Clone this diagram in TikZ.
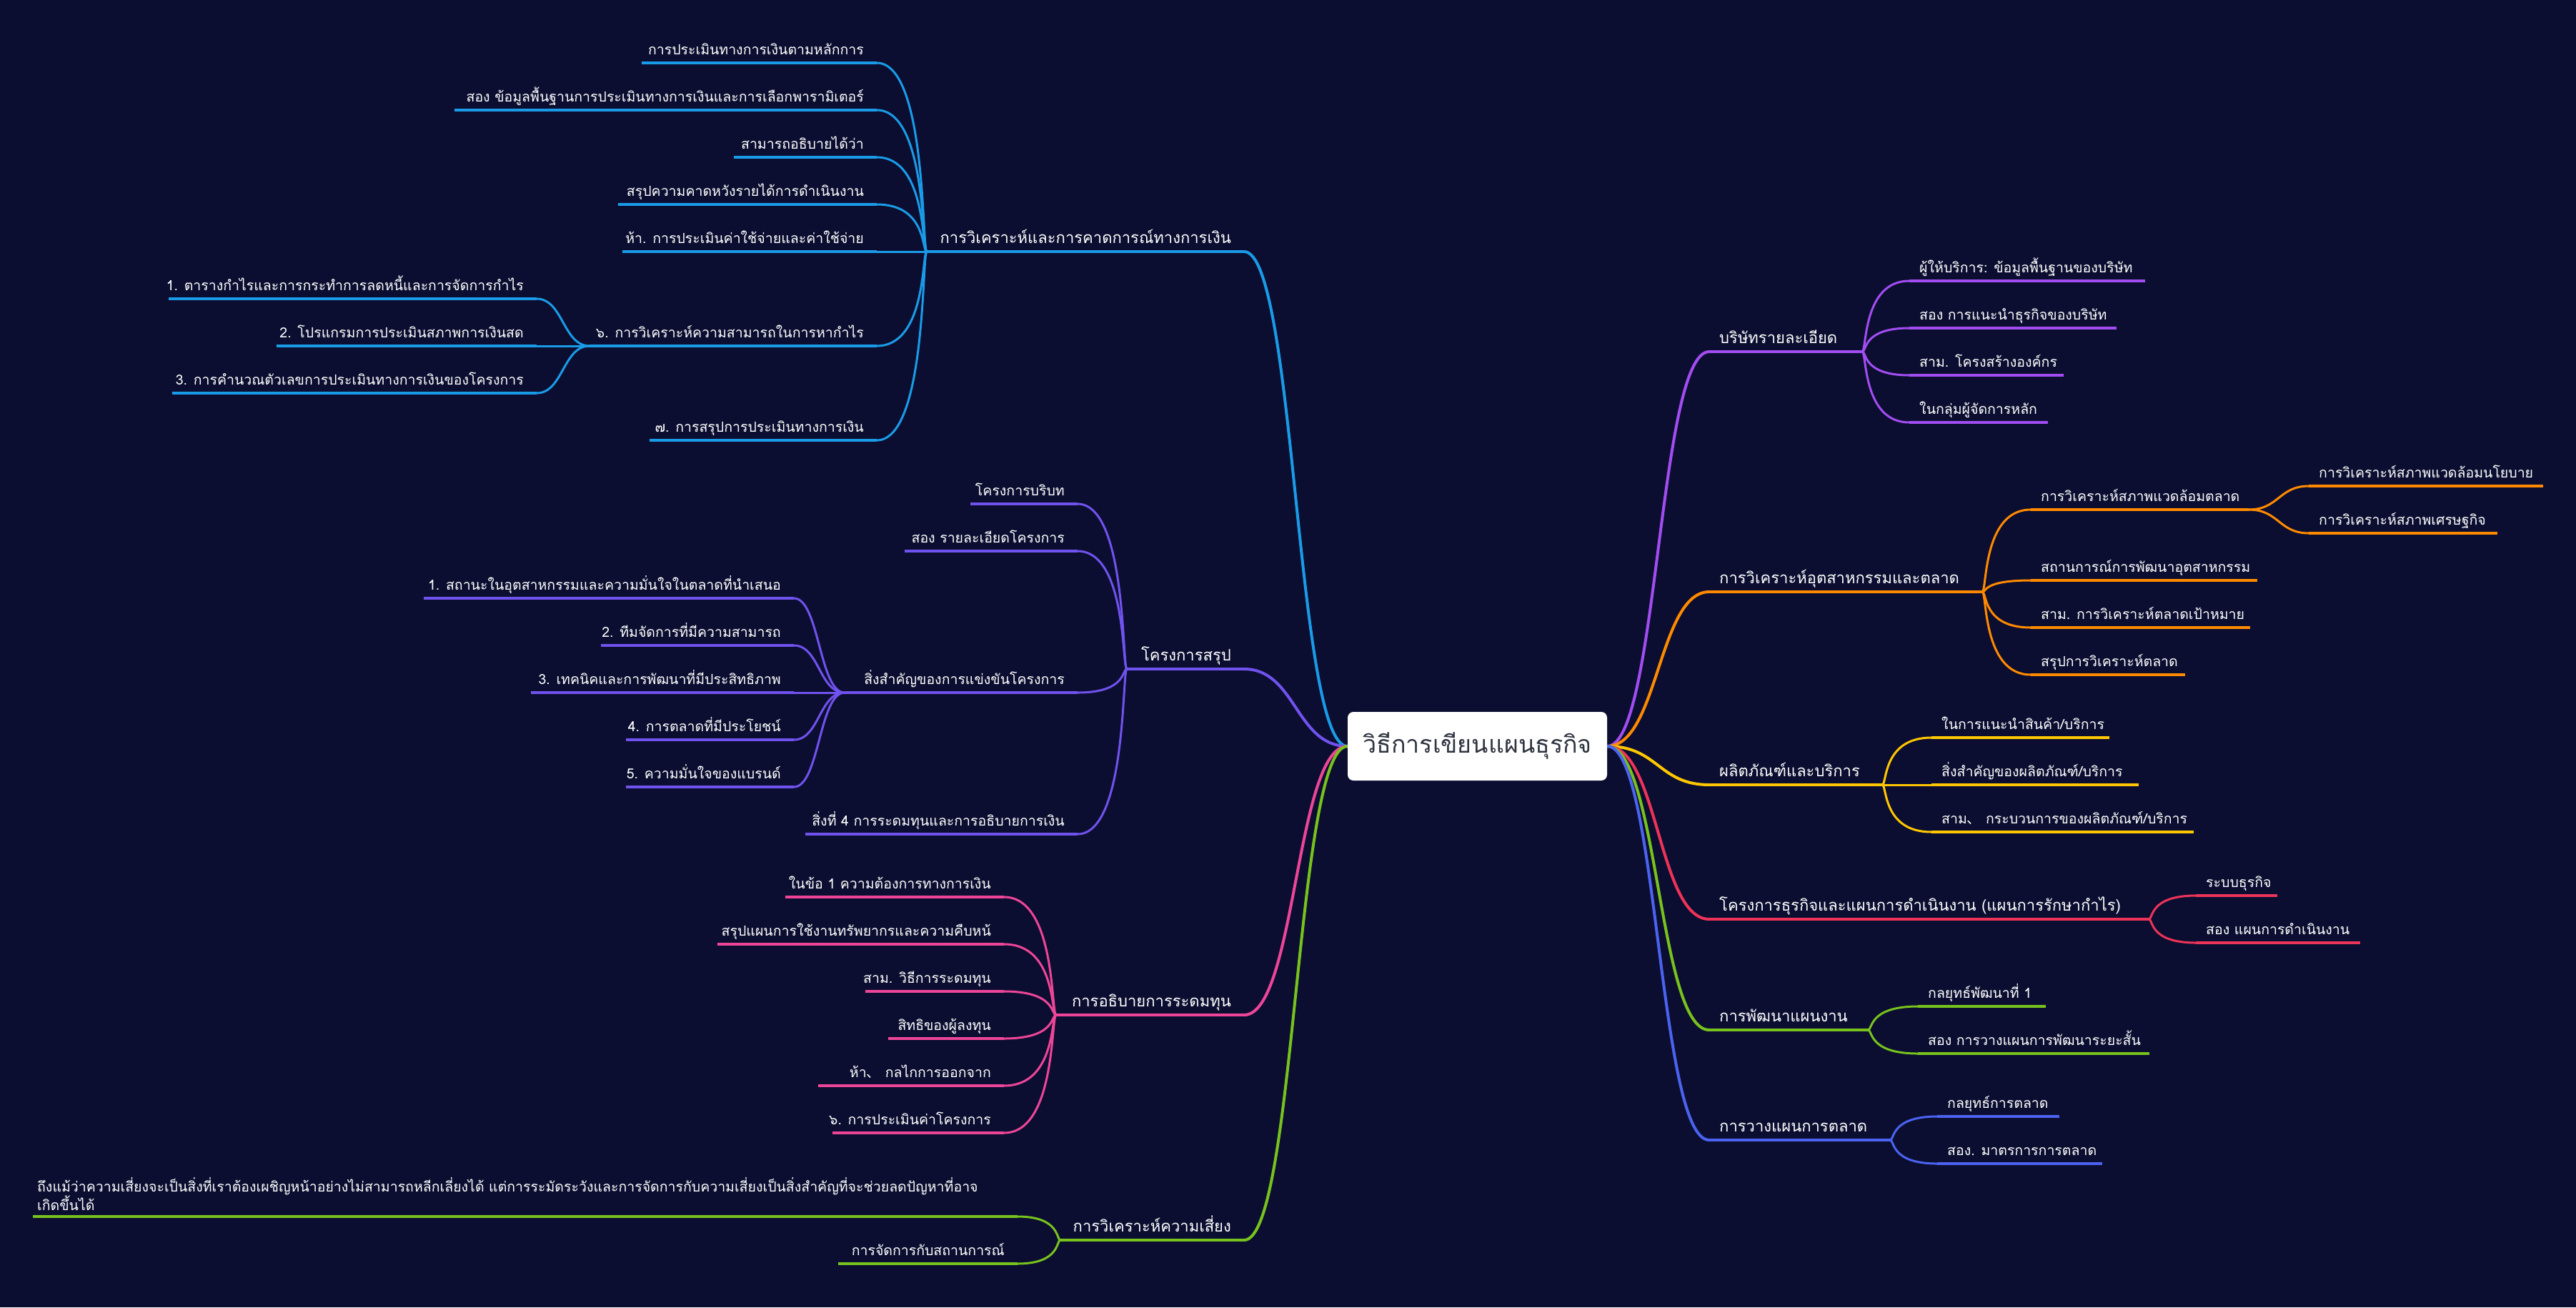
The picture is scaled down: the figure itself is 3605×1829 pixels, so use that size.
\documentclass[tikz,border=0pt]{standalone}
\usepackage{fontspec}
\setmainfont[Script=Thai]{Loma}
\newfontfamily\cjk{Noto Sans CJK SC}
\usetikzlibrary{calc}
\definecolor{bg}{HTML}{0B0E30}
\definecolor{cFin}{HTML}{1A9BE8}
\definecolor{cProj}{HTML}{7052EE}
\definecolor{cFund}{HTML}{EE4599}
\definecolor{cRisk}{HTML}{78C21E}
\definecolor{cComp}{HTML}{A24DF2}
\definecolor{cInd}{HTML}{FF8A00}
\definecolor{cProd}{HTML}{FFC700}
\definecolor{cBiz}{HTML}{EE3358}
\definecolor{cDev}{HTML}{78C21E}
\definecolor{cMkt}{HTML}{4B63F0}
\definecolor{rootgray}{HTML}{2E3440}
\newcommand\Rtopic[7]{%
  \coordinate (#1-s) at (#2,#4);
  \coordinate (#1-e) at (#3,#4);
  \draw[ul,#5] (#1-s) -- (#1-e);
  \node[#6,anchor=base west] (#1) at ($(#1-s)+(14,-12)$) {#7};
}
\newcommand\Ltopic[7]{%
  \coordinate (#1-s) at (#2,#4);
  \coordinate (#1-e) at (#3,#4);
  \draw[ul,#5] (#1-s) -- (#1-e);
  \node[#6,anchor=base east] (#1) at ($(#1-e)+(-18,-12)$) {#7};
}
\begin{document}
\begin{tikzpicture}[x=1pt,y=-1pt,
  ul/.style={line width=3.5pt},
  c1/.style={line width=4pt},
  c2/.style={line width=3pt},
  leaf/.style={text=white,inner sep=0pt,font=\fontsize{19.5}{26.5}\selectfont},
  lvl1/.style={text=white,inner sep=0pt,font=\fontsize{22}{27}\selectfont},
  rootbox/.style={fill=white,rounded corners=8pt,minimum width=363pt,minimum height=96pt,text=rootgray,font=\fontsize{34}{40}\selectfont},
  scurve/.style={to path={.. controls ($(\tikztostart)!0.5!(\tikztotarget |- \tikztostart)$) and ($(\tikztotarget)!0.5!(\tikztostart |- \tikztotarget)$) .. (\tikztotarget)}},
  lcurve/.style={to path={.. controls ($(\tikztostart)!0.1!(\tikztotarget |- \tikztostart)$) and (\tikztostart |- \tikztotarget) .. (\tikztotarget)}}]
\fill[bg] (0,0) rectangle (3605,1829);
\useasboundingbox (0,0) rectangle (3605,1829);

\node[rootbox] (root) at (2067.5,1044) {วิธีการเขียนแผนธุรกิจ};

% ---------- left: finance
\Ltopic{L1}{1297}{1741}{352}{cFin}{lvl1}{การวิเคราะห์และการคาดการณ์ทางการเงิน}
\Ltopic{L1a}{898}{1227}{88}{cFin}{leaf}{การประเมินทางการเงินตามหลักการ}
\Ltopic{L1b}{636}{1227}{154}{cFin}{leaf}{สอง ข้อมูลพื้นฐานการประเมินทางการเงินและการเลือกพารามิเตอร์}
\Ltopic{L1c}{1027}{1227}{220}{cFin}{leaf}{สามารถอธิบายได้ว่า}
\Ltopic{L1d}{865}{1227}{286}{cFin}{leaf}{สรุปความคาดหวังรายได้การดำเนินงาน}
\Ltopic{L1e}{871}{1227}{352}{cFin}{leaf}{ห้า. การประเมินค่าใช้จ่ายและค่าใช้จ่าย}
\Ltopic{L1f}{825}{1227}{484}{cFin}{leaf}{๖. การวิเคราะห์ความสามารถในการหากำไร}
\Ltopic{L1g}{909}{1227}{616}{cFin}{leaf}{๗. การสรุปการประเมินทางการเงิน}
\Ltopic{L1f1}{236}{751}{418}{cFin}{leaf}{1. ตารางกำไรและการกระทำการลดหนี้และการจัดการกำไร}
\Ltopic{L1f2}{387}{751}{484}{cFin}{leaf}{2. โปรแกรมการประเมินสภาพการเงินสด}
\Ltopic{L1f3}{241}{751}{550}{cFin}{leaf}{3. การคำนวณตัวเลขการประเมินทางการเงินของโครงการ}
\draw[c1,cFin] (root.west) to[scurve] (L1-e);
\foreach \c in {L1a,L1b,L1c,L1d,L1e,L1f,L1g}{\draw[c2,cFin] (L1-s) to[lcurve] (\c-e);}
\foreach \c in {L1f1,L1f2,L1f3}{\draw[c2,cFin] (L1f-s) to[scurve] (\c-e);}

% ---------- left: project summary
\Ltopic{L2}{1577}{1741}{936}{cProj}{lvl1}{โครงการสรุป}
\Ltopic{L2a}{1358}{1508}{705}{cProj}{leaf}{โครงการบริบท}
\Ltopic{L2b}{1266}{1508}{771}{cProj}{leaf}{สอง รายละเอียดโครงการ}
\Ltopic{L2c}{1182}{1508}{969}{cProj}{leaf}{สิ่งสำคัญของการแข่งขันโครงการ}
\Ltopic{L2d}{1127}{1508}{1167}{cProj}{leaf}{สิ่งที่ 4 การระดมทุนและการอธิบายการเงิน}
\Ltopic{L2c1}{593}{1111}{837}{cProj}{leaf}{1. สถานะในอุตสาหกรรมและความมั่นใจในตลาดที่นำเสนอ}
\Ltopic{L2c2}{841}{1111}{903}{cProj}{leaf}{2. ทีมจัดการที่มีความสามารถ}
\Ltopic{L2c3}{743}{1111}{969}{cProj}{leaf}{3. เทคนิคและการพัฒนาที่มีประสิทธิภาพ}
\Ltopic{L2c4}{876}{1111}{1035}{cProj}{leaf}{4. การตลาดที่มีประโยชน์}
\Ltopic{L2c5}{876}{1111}{1101}{cProj}{leaf}{5. ความมั่นใจของแบรนด์}
\draw[c1,cProj] (root.west) to[scurve] (L2-e);
\foreach \c in {L2a,L2b,L2c,L2d}{\draw[c2,cProj] (L2-s) to[lcurve] (\c-e);}
\foreach \c in {L2c1,L2c2,L2c3,L2c4,L2c5}{\draw[c2,cProj] (L2c-s) to[scurve] (\c-e);}

% ---------- left: funding
\Ltopic{L3}{1478}{1741}{1420}{cFund}{lvl1}{การอธิบายการระดมทุน}
\Ltopic{L3a}{1099}{1405}{1255}{cFund}{leaf}{ในข้อ 1 ความต้องการทางการเงิน}
\Ltopic{L3b}{1004}{1405}{1321}{cFund}{leaf}{สรุปแผนการใช้งานทรัพยากรและความคืบหน้}
\Ltopic{L3c}{1211}{1405}{1387}{cFund}{leaf}{สาม. วิธีการระดมทุน}
\Ltopic{L3d}{1243}{1405}{1453}{cFund}{leaf}{สิทธิของผู้ลงทุน}
\Ltopic{L3e}{1145}{1405}{1519}{cFund}{leaf}{ห้า{\cjk 、} กลไกการออกจาก}
\Ltopic{L3f}{1165}{1405}{1585}{cFund}{leaf}{๖. การประเมินค่าโครงการ}
\draw[c1,cFund] (root.west) to[scurve] (L3-e);
\foreach \c in {L3a,L3b,L3c,L3d,L3e,L3f}{\draw[c2,cFund] (L3-s) to[lcurve] (\c-e);}

% ---------- left: risk
\Ltopic{L4}{1484}{1741}{1735}{cRisk}{lvl1}{การวิเคราะห์ความเสี่ยง}
\coordinate (L4a-s) at (46,1702);
\coordinate (L4a-e) at (1424,1702);
\draw[ul,cRisk] (L4a-s) -- (L4a-e);
\node[leaf,anchor=south west,align=left] (L4a) at (52,1694) {ถึงแม้ว่าความเสี่ยงจะเป็นสิ่งที่เราต้องเผชิญหน้าอย่างไม่สามารถหลีกเลี่ยงได้ แต่การระมัดระวังและการจัดการกับความเสี่ยงเป็นสิ่งสำคัญที่จะช่วยลดปัญหาที่อาจ\\เกิดขึ้นได้};
\Ltopic{L4b}{1173}{1424}{1768}{cRisk}{leaf}{การจัดการกับสถานการณ์}
\draw[c1,cRisk] (root.west) to[scurve] (L4-e);
\foreach \c in {L4a,L4b}{\draw[c2,cRisk] (L4-s) to[lcurve] (\c-e);}

% ---------- right: company
\Rtopic{R1}{2392}{2606}{492}{cComp}{lvl1}{บริษัทรายละเอียด}
\Rtopic{R1a}{2672}{3002}{393}{cComp}{leaf}{ผู้ให้บริการ: ข้อมูลพื้นฐานของบริษัท}
\Rtopic{R1b}{2672}{2962}{459}{cComp}{leaf}{สอง การแนะนำธุรกิจของบริษัท}
\Rtopic{R1c}{2672}{2888}{525}{cComp}{leaf}{สาม. โครงสร้างองค์กร}
\Rtopic{R1d}{2672}{2866}{591}{cComp}{leaf}{ในกลุ่มผู้จัดการหลัก}
\draw[c1,cComp] (root.east) to[scurve] (R1-s);
\foreach \c in {R1a,R1b,R1c,R1d}{\draw[c2,cComp] (R1-e) to[lcurve] (\c-s);}

% ---------- right: industry
\Rtopic{R2}{2392}{2774}{828}{cInd}{lvl1}{การวิเคราะห์อุตสาหกรรมและตลาด}
\Rtopic{R2a}{2842}{3147}{713}{cInd}{leaf}{การวิเคราะห์สภาพแวดล้อมตลาด}
\Rtopic{R2b}{2842}{3159}{812}{cInd}{leaf}{สถานการณ์การพัฒนาอุตสาหกรรม}
\Rtopic{R2c}{2842}{3149}{878}{cInd}{leaf}{สาม. การวิเคราะห์ตลาดเป้าหมาย}
\Rtopic{R2d}{2842}{3058}{944}{cInd}{leaf}{สรุปการวิเคราะห์ตลาด}
\Rtopic{R2a1}{3231}{3559}{680}{cInd}{leaf}{การวิเคราะห์สภาพแวดล้อมนโยบาย}
\Rtopic{R2a2}{3231}{3495}{746}{cInd}{leaf}{การวิเคราะห์สภาพเศรษฐกิจ}
\draw[c1,cInd] (root.east) to[scurve] (R2-s);
\foreach \c in {R2a,R2b,R2c,R2d}{\draw[c2,cInd] (R2-e) to[lcurve] (\c-s);}
\foreach \c in {R2a1,R2a2}{\draw[c2,cInd] (R2a-e) to[scurve] (\c-s);}

% ---------- right: products
\Rtopic{R3}{2392}{2634}{1098}{cProd}{lvl1}{ผลิตภัณฑ์และบริการ}
\Rtopic{R3a}{2703}{2952}{1032}{cProd}{leaf}{ในการแนะนำสินค้า/บริการ}
\Rtopic{R3b}{2703}{2993}{1098}{cProd}{leaf}{สิ่งสำคัญของผลิตภัณฑ์/บริการ}
\Rtopic{R3c}{2703}{3070}{1164}{cProd}{leaf}{สาม{\cjk 、} กระบวนการของผลิตภัณฑ์/บริการ}
\draw[c1,cProd] (root.east) to[scurve] (R3-s);
\foreach \c in {R3a,R3b,R3c}{\draw[c2,cProd] (R3-e) to[lcurve] (\c-s);}

% ---------- right: business project
\Rtopic{R4}{2392}{3007}{1286}{cBiz}{lvl1}{โครงการธุรกิจและแผนการดำเนินงาน (แผนการรักษากำไร)}
\Rtopic{R4a}{3073}{3187}{1253}{cBiz}{leaf}{ระบบธุรกิจ}
\Rtopic{R4b}{3073}{3303}{1319}{cBiz}{leaf}{สอง แผนการดำเนินงาน}
\draw[c1,cBiz] (root.east) to[scurve] (R4-s);
\foreach \c in {R4a,R4b}{\draw[c2,cBiz] (R4-e) to[lcurve] (\c-s);}

% ---------- right: development
\Rtopic{R5}{2392}{2614}{1441}{cDev}{lvl1}{การพัฒนาแผนงาน}
\Rtopic{R5a}{2684}{2863}{1408}{cDev}{leaf}{กลยุทธ์พัฒนาที่ 1}
\Rtopic{R5b}{2684}{3008}{1474}{cDev}{leaf}{สอง การวางแผนการพัฒนาระยะสั้น}
\draw[c1,cDev] (root.east) to[scurve] (R5-s);
\foreach \c in {R5a,R5b}{\draw[c2,cDev] (R5-e) to[lcurve] (\c-s);}

% ---------- right: marketing
\Rtopic{R6}{2392}{2645}{1595}{cMkt}{lvl1}{การวางแผนการตลาด}
\Rtopic{R6a}{2711}{2882}{1562}{cMkt}{leaf}{กลยุทธ์การตลาด}
\Rtopic{R6b}{2711}{2942}{1628}{cMkt}{leaf}{สอง. มาตรการการตลาด}
\draw[c1,cMkt] (root.east) to[scurve] (R6-s);
\foreach \c in {R6a,R6b}{\draw[c2,cMkt] (R6-e) to[lcurve] (\c-s);}
\end{tikzpicture}
\end{document}
